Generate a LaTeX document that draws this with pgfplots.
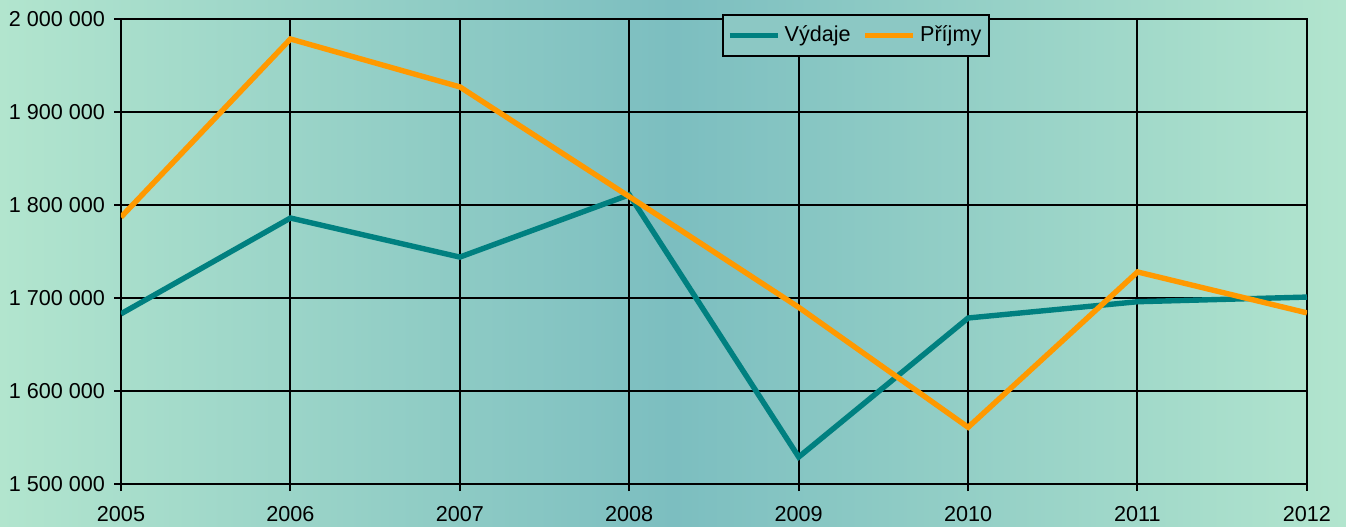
\documentclass[border=0pt]{standalone}
\usepackage{pgfplots}
\pgfplotsset{compat=1.18}
\usepackage{fontspec}
\setmainfont{Liberation Sans}
\definecolor{mint}{RGB}{178,229,206}
\definecolor{tealbg}{RGB}{124,190,192}
\definecolor{vyd}{RGB}{0,128,128}
\definecolor{prij}{RGB}{255,153,0}
\definecolor{legbg}{RGB}{140,200,196}
\begin{document}
\begin{tikzpicture}
\useasboundingbox (0,0) rectangle (673pt,263pt);
\shade[left color=mint, right color=mint, middle color=tealbg] (0,0) rectangle (673pt,263pt);
\begin{axis}[
  at={(60.5pt,21pt)}, anchor=south west,
  scale only axis, width=593pt, height=232.5pt,
  xmin=2005, xmax=2012, ymin=1500000, ymax=2000000,
  xtick={2005,...,2012},
  xticklabels={2005,2006,2007,2008,2009,2010,2011,2012},
  ytick={1500000,1600000,1700000,1800000,1900000,2000000},
  yticklabels={1 500 000,1 600 000,1 700 000,1 800 000,1 900 000,2 000 000},
  scaled y ticks=false, scaled x ticks=false,
  xtick pos=left, ytick pos=left, tick align=outside,
  major tick length=3.5pt,
  tick style={black, line width=1pt},
  grid=major, grid style={black, line width=1pt},
  axis line style={black, line width=1pt},
  ticklabel style={font=\fontsize{10.8}{12}\selectfont},
  xticklabel style={yshift=-4pt},
  yticklabel style={xshift=-1pt},
  legend style={at={(0.62,1.011)}, anchor=north, legend columns=2, draw=black, line width=1pt, fill=legbg,
    font=\fontsize{10.8}{12}\selectfont, inner xsep=2pt, inner ysep=3.5pt,
    /tikz/every even column/.append style={column sep=4pt}},
  legend image code/.code={\draw[#1] (0pt,0pt) -- (24pt,0pt);},
]
\addplot[vyd, line width=2.7pt] coordinates {
 (2005,1683000) (2006,1786000) (2007,1744000) (2008,1811000)
 (2009,1529000) (2010,1678500) (2011,1696000) (2012,1701000)};
\addlegendentry{Výdaje}
\addplot[prij, line width=2.7pt] coordinates {
 (2005,1787000) (2006,1978500) (2007,1927000) (2008,1809000)
 (2009,1690000) (2010,1561000) (2011,1728000) (2012,1684000)};
\addlegendentry{Příjmy}
\end{axis}
\end{tikzpicture}
\end{document}
